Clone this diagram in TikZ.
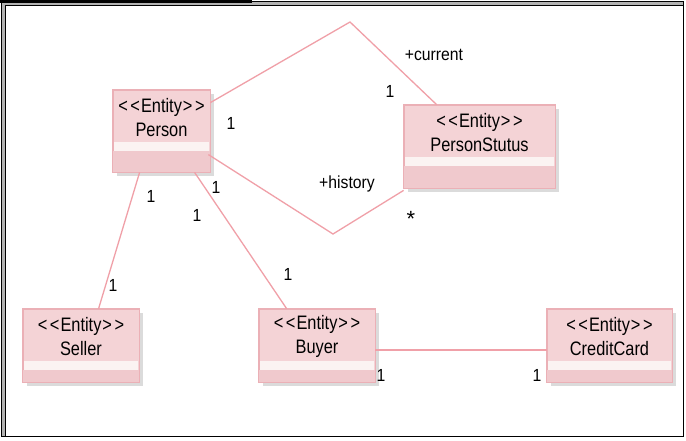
\documentclass[tikz,border=0pt]{standalone}
\usepackage{fontspec}
\setmainfont{Liberation Sans}
\newfontfamily\narrowfont{Liberation Sans}[FakeStretch=0.84]
\newfontfamily\labelfont{Liberation Sans}[FakeStretch=0.9]
\usetikzlibrary{calc,shadows}
\definecolor{boxfill}{HTML}{F4D3D6}
\definecolor{boxline}{HTML}{EBB0B6}
\definecolor{stripefill}{HTML}{FBF3F2}
\definecolor{lowfill}{HTML}{F0C9CD}
\definecolor{conn}{HTML}{F0A0A8}
\tikzset{
  entity/.style={draw=boxline, line width=0.8pt, fill=boxfill, inner sep=0pt,
    drop shadow={shadow xshift=4pt, shadow yshift=-4pt, fill=black, opacity=0.14}},
  entitytext/.style={font=\narrowfont\fontsize{19.5}{24.5}\selectfont, align=center, text=black, inner sep=0pt},
  conline/.style={draw=conn, line width=1.3pt},
  lbl/.style={font=\labelfont\fontsize{17.5}{20}\selectfont, inner sep=0pt, text=black}
}
\newcommand\stereo{{<}\kern2.5pt{<}\kern1pt Entity\kern1pt{>}\kern2.5pt{>}}
\newcommand\entitybox[6]{%
  \node[entity, minimum width=#4pt, minimum height=#5pt] (#1) at (#2,#3) {};
  \fill[lowfill] ($(#1.north west)+(0.5,61)$) rectangle ($(#1.south east)+(-0.5,-0.5)$);
  \fill[stripefill] ($(#1.north west)+(1.5,52)$) rectangle ($(#1.north east)+(-1.5,61)$);
  \node[entitytext] at ($(#1.north)+(0,28)$) {\stereo\\#6};
  \draw[boxline, line width=0.8pt] (#1.north west) rectangle (#1.south east);
}
\begin{document}
\begin{tikzpicture}[x=1pt,y=-1pt]
\useasboundingbox (0,0) rectangle (686,440);
\fill[white] (0,0) rectangle (686,440);
% frame
\fill[black!30] (1,1) rectangle (684,437);
\fill[white] (5,5) rectangle (683,436);
\draw[black, line width=1pt] (1,1) -- (1,437);
\draw[black, line width=1pt] (1,1) -- (684,1);
\draw[black, line width=3pt] (0,1.5) -- (252,1.5);
\draw[black, line width=1pt] (5,436) -- (5,5) -- (683.5,5);
\draw[black, line width=1.2pt] (683.5,1) -- (683.5,437);
\draw[black, line width=1.2pt] (1,436.5) -- (684,436.5);
% boxes
\entitybox{person}{161.5}{131}{97}{82}{Person}
\entitybox{status}{479.5}{146.5}{151}{83}{PersonStutus}
\entitybox{seller}{81}{345.5}{116}{73}{Seller}
\entitybox{buyer}{317}{345.5}{116}{73}{Buyer}
\entitybox{card}{609.5}{345.5}{125}{73}{CreditCard}
% connectors
\coordinate (topbend) at (350,22);
\coordinate (lowbend) at (333,234);
\draw[conline] ($(person.north east)+(0,13)$) -- (topbend) -- ($(status.north west)+(33,0)$);
\draw[conline] ($(person.north east)+(-2,65)$) -- (lowbend) -- ($(status.south west)+(0,2)$);
\draw[conline] ($(person.south west)+(27,0)$) -- ($(seller.north west)+(76,0)$);
\draw[conline] ($(person.south west)+(82,0)$) -- ($(buyer.north west)+(28,0)$);
\draw[conline, line width=1.5pt] ($(buyer.north east)+(0,41.5)$) -- ($(card.north west)+(0,41.5)$);
% labels
\node[lbl] (lcur) at (434,55) {+current};
\node[lbl] (l1) at (390,91) {1};
\node[lbl] (l2) at (231,123) {1};
\node[lbl] (lhist) at (347,184) {+history};
\node[lbl, font=\fontsize{22}{22}\selectfont] (lstar) at (411,219) {*};
\node[lbl] (l3) at (216,187) {1};
\node[lbl] (l4) at (151,196) {1};
\node[lbl] (l5) at (197,215) {1};
\node[lbl] (l6) at (113,285) {1};
\node[lbl] (l7) at (288,274) {1};
\node[lbl] (l8) at (381,375) {1};
\node[lbl] (l9) at (537,375) {1};
\end{tikzpicture}
\end{document}
